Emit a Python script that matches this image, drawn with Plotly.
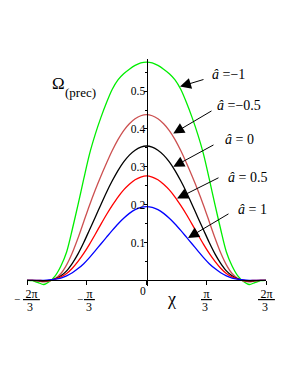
import math
import plotly.graph_objects as go

PI = math.pi

# chi values (radians)
chi = [-2.094, -2.0, -1.9, -1.8, -1.7, -1.6, -1.5, -1.4, -1.3, -1.2, -1.1, -1.0, -0.9, -0.8, -0.7,
       -0.6, -0.5, -0.4, -0.3, -0.2, -0.1, 0.0, 0.1, 0.2, 0.3, 0.4, 0.5, 0.6, 0.7, 0.8, 0.9, 1.0,
       1.1, 1.2, 1.3, 1.4, 1.5, 1.6, 1.7, 1.8, 1.9, 2.0, 2.094]

# Omega_(prec) for each a-hat value
omega_m1 = [0.0, -0.001, -0.006, -0.011, -0.003, 0.012, 0.038, 0.075, 0.135, 0.2, 0.268, 0.333,
            0.385, 0.43, 0.47, 0.505, 0.53, 0.546, 0.558, 0.568, 0.575, 0.577,
            0.575, 0.568, 0.558, 0.546, 0.53, 0.505, 0.47, 0.43, 0.385, 0.333, 0.268, 0.2,
            0.135, 0.075, 0.038, 0.012, -0.003, -0.011, -0.006, -0.001, 0.0]
omega_m05 = [0.0, 0.0, -0.002, -0.004, -0.002, 0.005, 0.018, 0.041, 0.073, 0.112, 0.155, 0.198,
             0.238, 0.275, 0.31, 0.343, 0.372, 0.396, 0.414, 0.427, 0.435, 0.438,
             0.435, 0.427, 0.414, 0.396, 0.372, 0.343, 0.31, 0.275, 0.238, 0.198, 0.155, 0.112,
             0.073, 0.041, 0.018, 0.005, -0.002, -0.004, -0.002, 0.0, 0.0]
omega_0 = [0.0, 0.0, -0.001, -0.002, 0.0, 0.004, 0.012, 0.025, 0.045, 0.07, 0.1, 0.133,
           0.166, 0.2, 0.233, 0.263, 0.29, 0.313, 0.331, 0.344, 0.352, 0.355,
           0.352, 0.344, 0.331, 0.313, 0.29, 0.263, 0.233, 0.2, 0.166, 0.133, 0.1, 0.07,
           0.045, 0.025, 0.012, 0.004, 0.0, -0.002, -0.001, 0.0, 0.0]
omega_p05 = [0.0, 0.0, 0.0, -0.001, 0.0, 0.003, 0.009, 0.018, 0.032, 0.05, 0.071, 0.095,
             0.121, 0.148, 0.174, 0.198, 0.22, 0.239, 0.254, 0.266, 0.273, 0.276,
             0.273, 0.266, 0.254, 0.239, 0.22, 0.198, 0.174, 0.148, 0.121, 0.095, 0.071, 0.05,
             0.032, 0.018, 0.009, 0.003, 0.0, -0.001, 0.0, 0.0, 0.0]
omega_p1 = [0.0, 0.0, 0.0, 0.0, 0.001, 0.003, 0.006, 0.012, 0.02, 0.031, 0.044, 0.06,
            0.078, 0.096, 0.114, 0.132, 0.149, 0.164, 0.177, 0.187, 0.193, 0.195,
            0.193, 0.187, 0.177, 0.164, 0.149, 0.132, 0.114, 0.096, 0.078, 0.06, 0.044, 0.031,
            0.02, 0.012, 0.006, 0.003, 0.001, 0.0, 0.0, 0.0, 0.0]

series = [
    (omega_m1, "#00ee00"),
    (omega_m05, "#cc5050"),
    (omega_0, "#000000"),
    (omega_p05, "#ff0000"),
    (omega_p1, "#0000ff"),
]

# labels
a_labels = ["<i>â</i> =−1", "<i>â</i> =−0.5", "<i>â</i> = 0", "<i>â</i> = 0.5", "<i>â</i> = 1"]
label_pos = [(1.11, 0.545), (1.2, 0.463), (1.34, 0.371), (1.39, 0.273), (1.57, 0.186)]
arrow_tail = [(1.025, 0.532), (1.165, 0.450), (1.2, 0.360), (1.288, 0.273), (1.463, 0.178)]
arrow_head = [(0.587, 0.512), (0.469, 0.388), (0.469, 0.300), (0.535, 0.216), (0.727, 0.112)]

xtick_vals = [-2 * PI / 3, -PI / 3, 0, PI / 3, 2 * PI / 3]
xtick_num = ["2π", "π", None, "π", "2π"]
xtick_neg = [True, True, False, False, False]
xtick_shift = [4, 3, 0, 0, 0]

ytick_vals = [0.1, 0.2, 0.3, 0.4, 0.5]
ytick_text = ["0.1", "0.2", "0.3", "0.4", "0.5"]
yminor_vals = [0.05, 0.15, 0.25, 0.35, 0.45, 0.55]

SERIF = "Liberation Serif, Times New Roman, serif"

fig = go.Figure()
for vals, col in series:
    fig.add_trace(go.Scatter(x=chi, y=vals, mode="lines",
                             line=dict(color=col, width=1.3, shape="spline", smoothing=0.8),
                             hoverinfo="skip"))

YMIN, YMAX = -0.015, 0.585

# the page body has an 8px default margin, so the figure is 8px smaller
fig.update_layout(
    width=290, height=377,
    margin=dict(l=19, r=32, t=51, b=99),
    plot_bgcolor="white", paper_bgcolor="white",
    showlegend=False,
    font=dict(family=SERIF, color="black"),
    xaxis=dict(range=[-2 * PI / 3, 2 * PI / 3], showgrid=False, zeroline=False,
               showline=True, linecolor="black", linewidth=1,
               anchor="free", position=(0 - YMIN) / (YMAX - YMIN),
               ticks="outside", ticklen=4, tickcolor="black",
               tickvals=xtick_vals, showticklabels=False),
    yaxis=dict(range=[YMIN, YMAX], showgrid=False, zeroline=False,
               showline=True, linecolor="black", linewidth=1,
               anchor="free", position=0.5,
               ticks="outside", ticklen=3, tickcolor="black",
               tickvals=ytick_vals, ticktext=ytick_text,
               ticklabelstandoff=-4,
               tickfont=dict(size=11.5, family=SERIF),
               minor=dict(ticks="outside", ticklen=2, tickcolor="black", tickvals=yminor_vals)),
)

ann = []
# x tick labels as fractions
for v, num, neg, sh in zip(xtick_vals, xtick_num, xtick_neg, xtick_shift):
    if num is None:
        ann.append(dict(x=v, y=0, xref="x", yref="y", text="0", showarrow=False,
                        xshift=-4, yshift=-10.5, font=dict(size=11.5)))
        continue
    ann.append(dict(x=v, y=0, xref="x", yref="y", text="<u>\u2009" + num + "\u2009</u>",
                    showarrow=False, xshift=sh, yshift=-14, font=dict(size=12)))
    ann.append(dict(x=v, y=0, xref="x", yref="y", text="3",
                    showarrow=False, xshift=sh - 1, yshift=-27, font=dict(size=12)))
    if neg:
        ann.append(dict(x=v, y=0, xref="x", yref="y", text="−", showarrow=False,
                        xshift=-10 if sh == 4 else -7, yshift=-19, font=dict(size=11)))

# axis titles
ann.append(dict(x=0.43, y=0, xref="x", yref="y", text="χ", showarrow=False,
                yshift=-19, font=dict(size=18)))
ann.append(dict(x=-1.551, y=0.5215, xref="x", yref="y", text="Ω",
                showarrow=False, xanchor="center", yanchor="middle", font=dict(size=17)))
ann.append(dict(x=-1.46, y=0.497, xref="x", yref="y", text="(prec)",
                showarrow=False, xanchor="left", yanchor="middle", font=dict(size=13)))

for txt, (lx, ly) in zip(a_labels, label_pos):
    ann.append(dict(x=lx, y=ly, xref="x", yref="y", text=txt, showarrow=False,
                    xanchor="left", yanchor="middle", font=dict(size=14)))

for (tx, ty), (hx, hy) in zip(arrow_tail, arrow_head):
    ann.append(dict(x=hx, y=hy, xref="x", yref="y", ax=tx, ay=ty, axref="x", ayref="y",
                    text="", showarrow=True, arrowhead=2, arrowsize=2.2, arrowwidth=1,
                    arrowcolor="black", standoff=0))

fig.update_layout(annotations=ann)
fig.write_html("out.html")
